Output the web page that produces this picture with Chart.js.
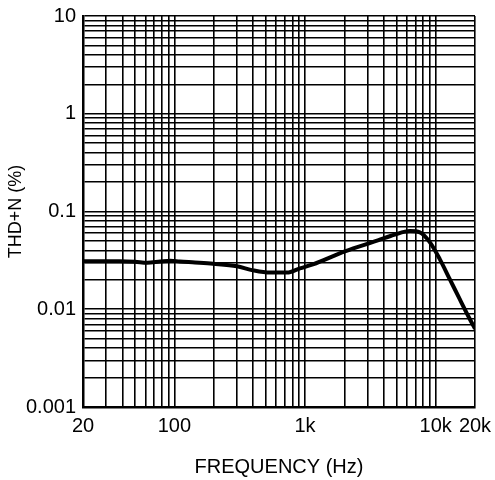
<!DOCTYPE html>
<html>
<head>
<meta charset="utf-8">
<script src="https://cdn.jsdelivr.net/npm/chart.js@4/dist/chart.umd.min.js"></script>
<style>
  html,body{margin:0;padding:0;background:#fff;}
  #wrap{width:495px;height:480px;}
</style>
</head>
<body>
<div id="wrap"><canvas id="c"></canvas></div>
<script>
// THD+N vs frequency
const freqHz = [20, 27, 38, 50, 62, 78, 93, 110, 144, 198, 301, 400, 540, 728, 914, 1150, 2020, 3610, 4880, 6360, 7570, 9040, 10770, 12850, 15320, 18280, 20000];
const thdN   = [0.031, 0.031, 0.031, 0.0306, 0.0299, 0.0308, 0.0314, 0.0308, 0.0301, 0.0292, 0.0275, 0.025, 0.0237, 0.0237, 0.0262, 0.0288, 0.0391, 0.0506, 0.0582, 0.063, 0.0611, 0.0483, 0.0324, 0.0202, 0.0126, 0.0079, 0.0063];

const xGrid = [20,30,40,50,60,70,80,90,100,200,300,400,500,600,700,800,900,1000,2000,3000,4000,5000,6000,7000,8000,9000,10000,20000];
const xLabels = {20:"20", 100:"100", 1000:"1k", 10000:"10k", 20000:"20k"};
const yGrid = [];
for (const d of [0.001, 0.01, 0.1, 1]) for (let k = 1; k < 10; k++) yGrid.push(+(d*k).toPrecision(3));
yGrid.push(10);
const yLabels = {0.001:"0.001", 0.01:"0.01", 0.1:"0.1", 1:"1", 10:"10"};

const font = {family:"'Liberation Sans', Arial, sans-serif", size:20};
const gridStyle = {color:'#000', lineWidth:1.6, drawTicks:false};

new Chart(document.getElementById('c'), {
  type:'line',
  data:{
    datasets:[{
      data: freqHz.map((f,i)=>({x:f, y:thdN[i]})),
      borderColor:'#000',
      borderWidth:4,
      pointRadius:0,
      cubicInterpolationMode:'monotone'
    }]
  },
  options:{
    responsive:true,
    maintainAspectRatio:false,
    animation:false,
    layout:{padding:{left:0, right:20, top:16, bottom:0}},
    plugins:{legend:{display:false}, tooltip:{enabled:false}},
    scales:{
      x:{
        type:'logarithmic', min:20, max:20000,
        afterBuildTicks: s => { s.ticks = xGrid.map(v=>({value:v})); },
        afterFit: s => { s.height = 73; s.paddingLeft = 0; s.paddingRight = 0; },
        grid:gridStyle,
        border:{display:true, color:'#000', width:2.5},
        ticks:{color:'#000', font:font, autoSkip:false, maxRotation:0, padding:7,
               callback: v => xLabels[v] || ''},
        title:{display:true, text:'FREQUENCY (Hz)', color:'#000', font:font, padding:{top:0, bottom:1}}
      },
      y:{
        type:'logarithmic', min:0.001, max:10,
        afterBuildTicks: s => { s.ticks = yGrid.map(v=>({value:v})); },
        afterFit: s => { s.width = 83; s.paddingTop = 0; s.paddingBottom = 0; },
        grid:gridStyle,
        border:{display:true, color:'#000', width:2.5},
        ticks:{color:'#000', font:font, autoSkip:false, padding:7,
               callback: v => yLabels[v] || ''},
        title:{display:true, text:'THD+N (%)', color:'#000', font:{family:font.family, size:18}, padding:{top:5, bottom:0}}
      }
    }
  }
});
</script>
</body>
</html>
